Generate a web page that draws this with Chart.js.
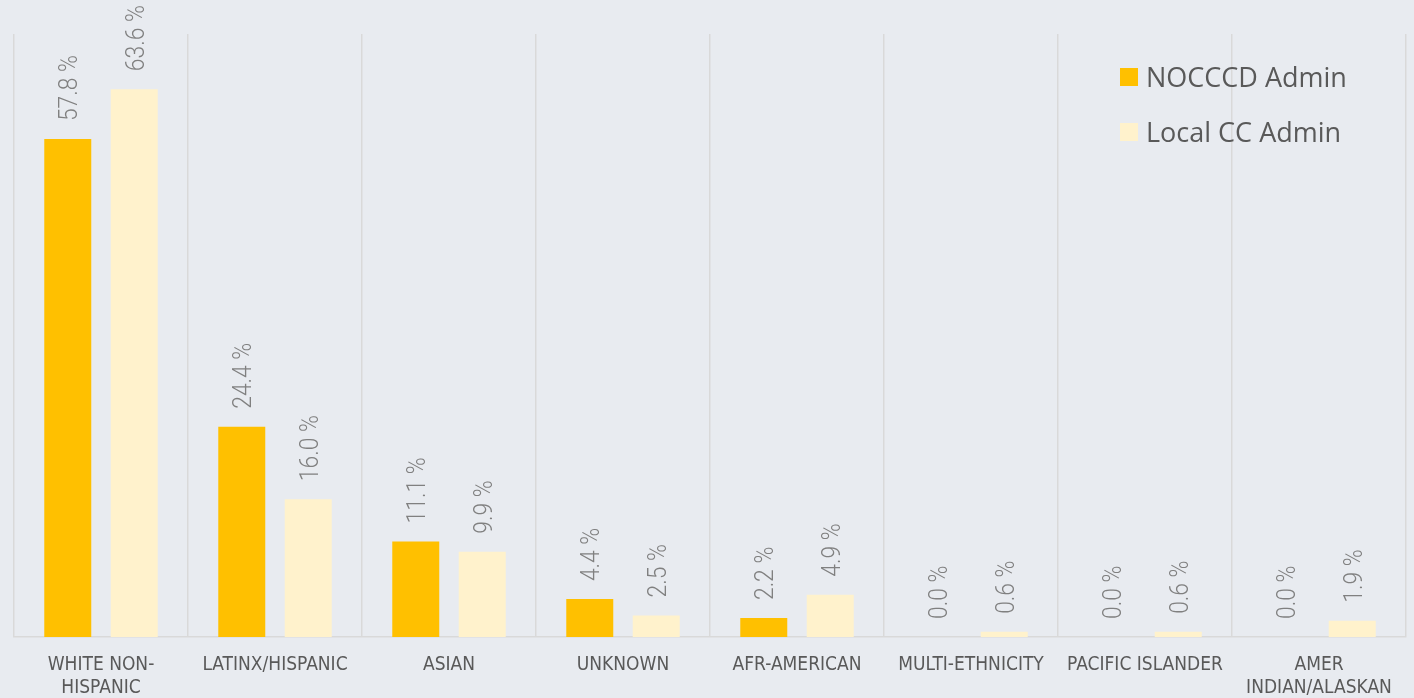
<!DOCTYPE html>
<html>
<head>
<meta charset="utf-8">
<script src="https://cdn.jsdelivr.net/npm/chart.js@4.4.1/dist/chart.umd.min.js"></script>
<style>
  html, body { margin: 0; padding: 0; background: #e8ebf0; }
  #wrap { position: relative; width: 1414px; height: 698px; }
  #legend { position: absolute; left: 1120px; top: 49px; font-family: "Open Sans", sans-serif; font-size: 27px; color: #595959; }
  #legend div { display: flex; align-items: center; height: 55px; }
  #legend span.box { width: 18px; height: 18px; margin-right: 8px; display: inline-block; }
</style>
</head>
<body>
<div id="wrap">
  <canvas id="chart" width="1414" height="698"></canvas>
  <div id="legend"></div>
</div>
<script>
const categories = [
  ["WHITE NON-", "HISPANIC"],
  "LATINX/HISPANIC",
  "ASIAN",
  "UNKNOWN",
  "AFR-AMERICAN",
  "MULTI-ETHNICITY",
  "PACIFIC ISLANDER",
  ["AMER", "INDIAN/ALASKAN"],
];
const nocccdAdmin = [57.8, 24.4, 11.1, 4.4, 2.2, 0.0, 0.0, 0.0];
const localCcAdmin = [63.6, 16.0, 9.9, 2.5, 4.9, 0.6, 0.6, 1.9];
const seriesNames = ["NOCCCD Admin", "Local CC Admin"];
const seriesColors = ["#ffc000", "#fff2cc"];

const GRID = "#d9d9d9";

// rotated value labels above each bar
const valueLabels = {
  id: "valueLabels",
  afterDatasetsDraw(chart) {
    const ctx = chart.ctx;
    ctx.save();
    ctx.fillStyle = "#808080";
    ctx.font = "300 26px Roboto";
    ctx.textBaseline = "alphabetic";
    ctx.textAlign = "left";
    chart.data.datasets.forEach((ds, i) => {
      chart.getDatasetMeta(i).data.forEach((bar, j) => {
        const text = ds.data[j].toFixed(1) + " %";
        ctx.save();
        ctx.translate(bar.x + 9.5, bar.y - 18);
        ctx.rotate(-Math.PI / 2);
        ctx.scale(0.88, 1);
        ctx.fillText(text, 0, 0);
        ctx.restore();
      });
    });
    ctx.restore();
  },
};

new Chart(document.getElementById("chart"), {
  type: "bar",
  data: {
    labels: categories,
    datasets: [
      { label: seriesNames[0], data: nocccdAdmin, backgroundColor: seriesColors[0] },
      { label: seriesNames[1], data: localCcAdmin, backgroundColor: seriesColors[1] },
    ],
  },
  options: {
    responsive: false,
    animation: false,
    events: [],
    datasets: { bar: { categoryPercentage: 0.764, barPercentage: 0.707 } },
    layout: { padding: { left: 14, right: 8, top: 34, bottom: 0 } },
    plugins: { legend: { display: false }, tooltip: { enabled: false } },
    scales: {
      x: {
        grid: { color: GRID, lineWidth: 1.5, drawTicks: false, offset: true },
        border: { color: GRID, width: 1.5 },
        ticks: {
          color: "#595959",
          padding: 17,
          maxRotation: 0,
          autoSkip: false,
          font: { family: "'Liberation Sans Narrow', 'DejaVu Sans Condensed', sans-serif", size: 19, lineHeight: 1.2 },
        },
        afterFit(scale) { scale.height = 61; },
      },
      y: { display: false, min: 0, max: 70 },
    },
  },
  plugins: [valueLabels],
});

const legend = document.getElementById("legend");
seriesNames.forEach((name, i) => {
  const row = document.createElement("div");
  row.innerHTML = `<span class="box" style="background:${seriesColors[i]}"></span>${name}`;
  legend.appendChild(row);
});
</script>
</body>
</html>
